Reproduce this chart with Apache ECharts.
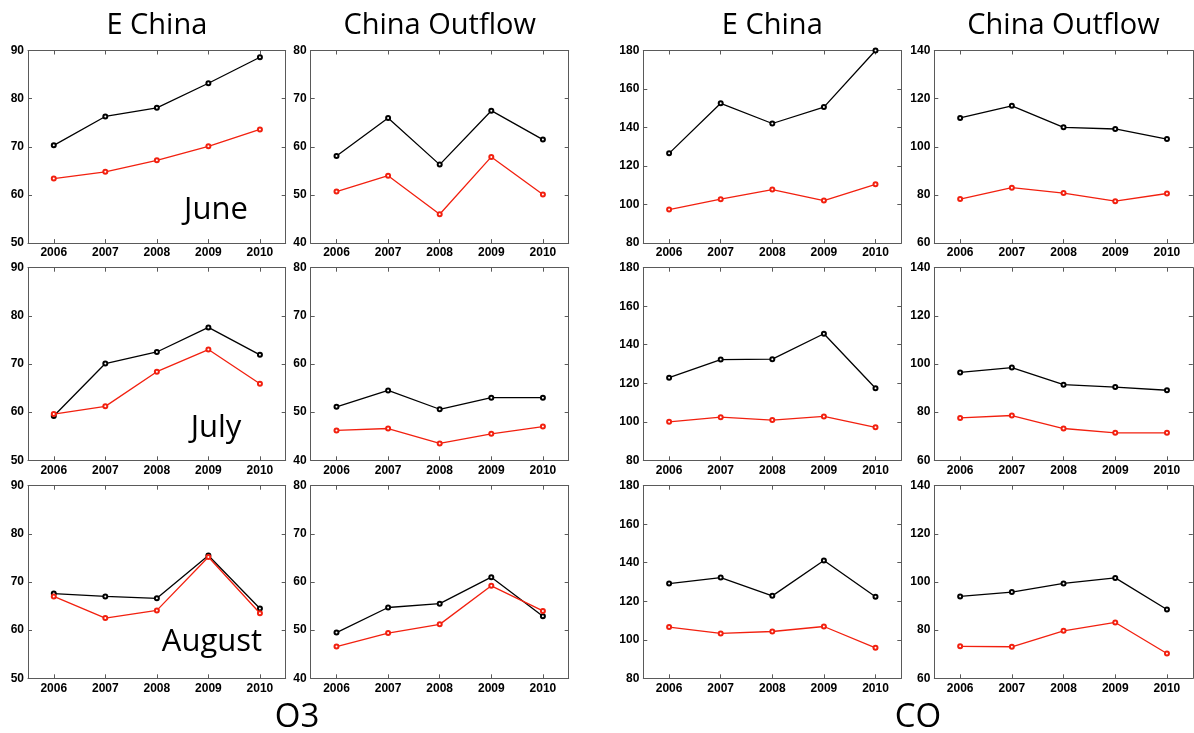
<!DOCTYPE html>
<html>
<head>
<meta charset="utf-8">
<script src="https://cdn.jsdelivr.net/npm/echarts@6/dist/echarts.min.js"></script>
<style>
html,body{margin:0;padding:0;background:#fff;}
#chart{width:1194px;height:733px;}
</style>
</head>
<body>
<div id="chart"></div>
<script>
// ---- data ----
const years = ['2006', '2007', '2008', '2009', '2010'];

// O3, E China
const o3EChinaJuneBlack   = [70.3, 76.3, 78.1, 83.2, 88.6];
const o3EChinaJuneRed     = [63.4, 64.8, 67.2, 70.1, 73.6];
const o3EChinaJulyBlack   = [59.2, 70.1, 72.5, 77.6, 71.9];
const o3EChinaJulyRed     = [59.6, 61.2, 68.4, 73.0, 65.9];
const o3EChinaAugustBlack = [67.6, 67.0, 66.6, 75.5, 64.5];
const o3EChinaAugustRed   = [67.0, 62.5, 64.1, 75.2, 63.5];
// O3, China Outflow
const o3OutflowJuneBlack   = [58.1, 66.0, 56.3, 67.5, 61.5];
const o3OutflowJuneRed     = [50.7, 54.0, 46.0, 57.9, 50.1];
const o3OutflowJulyBlack   = [51.1, 54.5, 50.6, 53.0, 53.0];
const o3OutflowJulyRed     = [46.2, 46.6, 43.5, 45.5, 47.0];
const o3OutflowAugustBlack = [49.5, 54.7, 55.5, 61.0, 52.9];
const o3OutflowAugustRed   = [46.6, 49.4, 51.2, 59.2, 54.0];
// CO, E China
const coEChinaJuneBlack   = [126.6, 152.6, 142.1, 150.6, 180.0];
const coEChinaJuneRed     = [97.4, 102.8, 107.8, 102.1, 110.5];
const coEChinaJulyBlack   = [122.9, 132.3, 132.5, 145.7, 117.4];
const coEChinaJulyRed     = [100.0, 102.4, 100.9, 102.8, 97.1];
const coEChinaAugustBlack = [129.2, 132.3, 122.8, 141.2, 122.3];
const coEChinaAugustRed   = [106.6, 103.3, 104.3, 106.9, 95.8];
// CO, China Outflow
const coOutflowJuneBlack   = [112.0, 117.0, 108.1, 107.4, 103.2];
const coOutflowJuneRed     = [78.3, 83.0, 80.8, 77.4, 80.6];
const coOutflowJulyBlack   = [96.5, 98.5, 91.4, 90.4, 89.1];
const coOutflowJulyRed     = [77.6, 78.6, 73.2, 71.4, 71.4];
const coOutflowAugustBlack = [94.0, 95.8, 99.4, 101.7, 88.6];
const coOutflowAugustRed   = [73.3, 73.1, 79.7, 83.2, 70.3];

// axis ranges [min, max, interval]
const o3EChinaRange  = [50, 90, 10];
const o3OutflowRange = [40, 80, 10];
const coEChinaRange  = [80, 180, 20];
const coOutflowRange = [60, 140, 20];

const columnTitles = ['E China', 'China Outflow', 'E China', 'China Outflow'];
const monthLabels = ['June', 'July', 'August'];
const speciesLabels = ['O3', 'CO'];

// panels[row][col]
const panels = [
  [[o3EChinaJuneBlack, o3EChinaJuneRed], [o3OutflowJuneBlack, o3OutflowJuneRed], [coEChinaJuneBlack, coEChinaJuneRed], [coOutflowJuneBlack, coOutflowJuneRed]],
  [[o3EChinaJulyBlack, o3EChinaJulyRed], [o3OutflowJulyBlack, o3OutflowJulyRed], [coEChinaJulyBlack, coEChinaJulyRed], [coOutflowJulyBlack, coOutflowJulyRed]],
  [[o3EChinaAugustBlack, o3EChinaAugustRed], [o3OutflowAugustBlack, o3OutflowAugustRed], [coEChinaAugustBlack, coEChinaAugustRed], [coOutflowAugustBlack, coOutflowAugustRed]]
];
const colRanges = [o3EChinaRange, o3OutflowRange, coEChinaRange, coOutflowRange];

// ---- layout ----
const colLeft = [28, 310.7, 643.3, 934.3];
const colWidth = [257.7, 258, 258, 258.5];
const rowTop = [50.5, 267.7, 485.7];
const rowHeight = 192.6;

const frameColor = '#5a5a5a';
const tickFont = { fontFamily: 'Liberation Sans', fontWeight: 'bold', fontSize: 12, color: '#000' };
const seriesColors = ['#000000', '#f2200f'];

const grid = [], xAxis = [], yAxis = [], series = [];
let g = 0;
for (let r = 0; r < 3; r++) {
  for (let c = 0; c < 4; c++) {
    grid.push({ left: colLeft[c], top: rowTop[r], width: colWidth[c], height: rowHeight, containLabel: false });
    const rng = colRanges[c];
    const baseTick = { show: true, inside: true, length: 4, alignWithLabel: true, lineStyle: { color: frameColor, width: 1 } };
    const baseLine = { show: true, onZero: false, lineStyle: { color: frameColor, width: 1 } };
    // bottom x
    xAxis.push({ gridIndex: g, type: 'category', data: years, boundaryGap: true, position: 'bottom',
      axisLine: baseLine, axisTick: baseTick,
      axisLabel: Object.assign({ margin: 4, interval: 0 }, tickFont), splitLine: { show: false } });
    // top x
    xAxis.push({ gridIndex: g, type: 'category', data: years, boundaryGap: true, position: 'top',
      axisLine: baseLine, axisTick: baseTick, axisLabel: { show: false }, splitLine: { show: false } });
    // left y
    yAxis.push({ gridIndex: g, type: 'value', min: rng[0], max: rng[1], interval: rng[2], position: 'left',
      axisLine: baseLine, axisTick: Object.assign({}, baseTick, { alignWithLabel: false }),
      axisLabel: Object.assign({ margin: 4 }, tickFont), splitLine: { show: false } });
    // right y
    yAxis.push({ gridIndex: g, type: 'value', min: rng[0], max: rng[1], interval: rng[2], position: 'right',
      axisLine: baseLine, axisTick: Object.assign({}, baseTick, { alignWithLabel: false }),
      axisLabel: { show: false }, splitLine: { show: false } });
    const pair = panels[r][c];
    for (let s = 0; s < 2; s++) {
      series.push({
        type: 'line', xAxisIndex: 2 * g, yAxisIndex: 2 * g, data: pair[s],
        symbol: 'emptyCircle', symbolSize: 4, showSymbol: true,
        lineStyle: { color: seriesColors[s], width: 1.3 },
        itemStyle: { color: seriesColors[s], borderColor: seriesColors[s], borderWidth: 1.2 },
        animation: false, silent: true, z: 2 + s
      });
    }
    g++;
  }
}

const textFont = 'Open Sans';
const graphic = [];
for (let c = 0; c < 4; c++) {
  graphic.push({ type: 'text', x: colLeft[c] + colWidth[c] / 2, y: 26,
    style: { text: columnTitles[c], fontFamily: textFont, fontSize: 29, fill: '#000', textAlign: 'center', textVerticalAlign: 'middle' } });
}
const monthPos = [[216, 210], [216, 428], [212, 642]];
for (let r = 0; r < 3; r++) {
  graphic.push({ type: 'text', x: monthPos[r][0], y: monthPos[r][1],
    style: { text: monthLabels[r], fontFamily: textFont, fontSize: 31, fill: '#000', textAlign: 'center', textVerticalAlign: 'middle' } });
}
const speciesPos = [[297, 718], [918, 718]];
for (let i = 0; i < 2; i++) {
  graphic.push({ type: 'text', x: speciesPos[i][0], y: speciesPos[i][1],
    style: { text: speciesLabels[i], fontFamily: textFont, fontSize: 33, fill: '#000', textAlign: 'center', textVerticalAlign: 'middle' } });
}

const chart = echarts.init(document.getElementById('chart'), null, { renderer: 'canvas' });
chart.setOption({
  backgroundColor: '#fff',
  animation: false,
  grid, xAxis, yAxis, series, graphic
});
</script>
</body>
</html>
